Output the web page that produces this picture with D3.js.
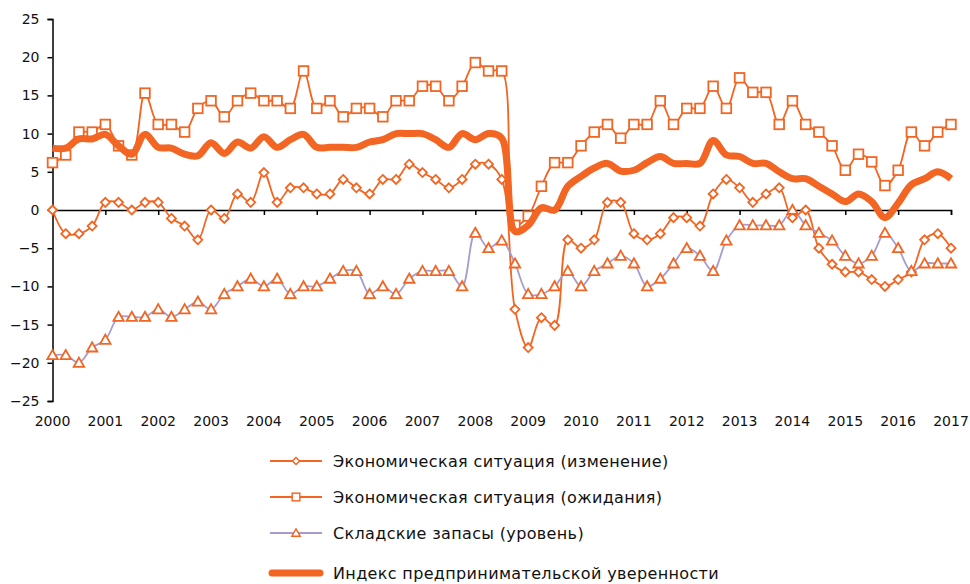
<!DOCTYPE html>
<html><head><meta charset="utf-8">
<script src="https://cdn.jsdelivr.net/npm/d3@7"></script>
<style>body{margin:0;background:#fff}svg{display:block}text{font-family:"DejaVu Sans",sans-serif;fill:#111}</style>
</head><body><svg id="c" width="970" height="584"></svg>
<script>
const yearTicks = [2000,2001,2002,2003,2004,2005,2006,2007,2008,2009,2010,2011,2012,2013,2014,2015,2016,2017];
const yTicks = [-25,-20,-15,-10,-5,0,5,10,15,20,25];
// quarterly observations, 2000 Q1 ... 2017 Q1
const quarters = d3.range(69).map(i => 2000 + i / 4);
const seriesNames = [
  "Экономическая ситуация (изменение)",
  "Экономическая ситуация (ожидания)",
  "Складские запасы (уровень)",
  "Индекс предпринимательской уверенности"
];
const changeVals = [0,-3.1,-3.1,-2.1, 1,1,0,1, 1,-1.1,-2.1,-3.9, 0,-1.1,2.1,1, 4.9,1,2.9,2.9,
  2.1,2.1,4,2.9, 2.1,4,4,6, 4.9,4,2.9,4, 6,6,4,-13, -18,-14.1,-15.1,-3.9, -5,-3.9,1,1,
  -3.1,-3.9,-3.1,-1, -1,-2.1,2.1,4, 2.9,1,2.1,2.9, -1,0,-5,-7.1, -8.1,-8.1,-9.1,-10, -9.1,-8.1,-3.9,-3.1, -5];
const expectVals = [6.2,7.2,10.2,10.2, 11.2,8.4,7.2,15.3, 11.2,11.2,10.2,13.3, 14.3,12.2,14.3,15.3,
  14.3,14.3,13.3,18.2, 13.3,14.3,12.2,13.3, 13.3,12.2,14.3,14.3, 16.2,16.2,14.3,16.2,
  19.3,18.2,18.2,-2, -0.8,3.1,6.2,6.2, 8.4,10.2,11.2,9.4, 11.2,11.2,14.3,11.2,
  13.3,13.3,16.2,13.3, 17.3,15.4,15.4,11.2, 14.3,11.2,10.2,8.4, 5.2,7.3,6.3,3.2, 5.2,10.2,8.4,10.2, 11.2];
const stockVals = [-19,-19,-20,-18, -17,-14,-14,-14, -13,-14,-13,-12, -13,-11,-10,-9, -10,-9,-11,-10,
  -10,-9,-8,-8, -11,-10,-11,-9, -8,-8,-8,-10, -3,-5,-4,-7, -11,-11,-10,-8, -10,-8,-7,-6,
  -7,-10,-9,-7, -5,-6,-8,-4, -2,-2,-2,-2, 0,-2,-3,-4, -6,-7,-6,-3, -5,-8,-7,-7, -7];
const indexVals = [8.1,8.1,9.3,9.3, 9.9,8.4,7.3,9.9, 8.2,8.1,7.3,7.1, 8.8,7.4,8.9,8.1, 9.6,8.2,9.2,9.9,
  8.2,8.2,8.2,8.2, 8.9,9.2,10,10, 10,9.2,8.2,10, 9.2,10,9.4,-2.8, -2,0.3,0,3.1, 4.4,5.5,6.1,5.1,
  5.2,6.2,7,6.1, 6.1,6.1,9.1,7.2, 7,6.1,6.1,5, 4.1,4.1,3.1,2.1, 1.1,2.1,1.1,-1, 0.9,3.3,4.1,5, 4.1];

const ORANGE = "#f26522", LAV = "#a89ccc";
const svg = d3.select("#c");
const x = d3.scaleLinear().domain([2000, 2017]).range([52.5, 951]);
const y = d3.scaleLinear().domain([-25, 25]).range([401, 19]);

// y axis
const ya = svg.append("g").attr("transform", `translate(${x(2000)},0)`)
  .call(d3.axisLeft(y).tickValues(yTicks).tickSize(5).tickPadding(8).tickFormat(d3.format("d")));
ya.select(".domain").attr("stroke", "#000").attr("stroke-width", 1.5);
ya.selectAll(".tick line").attr("stroke", "#000").attr("stroke-width", 1.5);
ya.selectAll("text").style("font-size", "14px").attr("fill", "#111");

// x axis on zero line
const xa = svg.append("g").attr("transform", `translate(0,${y(0)})`)
  .call(d3.axisBottom(x).tickValues(yearTicks).tickSize(5).tickFormat(""));
xa.select(".domain").attr("stroke", "#000").attr("stroke-width", 1.5);
xa.selectAll(".tick line").attr("stroke", "#000").attr("stroke-width", 1.5);
svg.append("g").selectAll("text").data(yearTicks).join("text")
  .attr("x", d => x(d)).attr("y", y(-25) + 25).attr("text-anchor", "middle")
  .style("font-size", "14px").text(d => d);

const line = d3.line().x((d, i) => x(quarters[i])).y(d => y(d)).curve(d3.curveCatmullRom);

const sym = {
  diamond: (g, cx, cy) => g.append("path").attr("d", `M${cx},${cy-4.5}L${cx+4.5},${cy}L${cx},${cy+4.5}L${cx-4.5},${cy}Z`),
  square: (g, cx, cy) => g.append("rect").attr("x", cx-4.8).attr("y", cy-4.8).attr("width", 9.6).attr("height", 9.6),
  triangle: (g, cx, cy) => g.append("path").attr("d", `M${cx},${cy-5.2}L${cx+5.2},${cy+4}L${cx-5.2},${cy+4}Z`)
};
function drawSeries(vals, lineColor, shape) {
  svg.append("path").datum(vals).attr("d", line).attr("fill", "none")
    .attr("stroke", lineColor).attr("stroke-width", 1.8);
  const g = svg.append("g");
  vals.forEach((v, i) => sym[shape](g, x(quarters[i]), y(v))
    .attr("fill", "#fff").attr("stroke", ORANGE).attr("stroke-width", 1.8));
}
drawSeries(changeVals, ORANGE, "diamond");
drawSeries(expectVals, ORANGE, "square");
drawSeries(stockVals, LAV, "triangle");
svg.append("path").datum(indexVals).attr("d", line).attr("fill", "none")
  .attr("stroke", ORANGE).attr("stroke-width", 7).attr("stroke-linejoin", "round");

// legend
const legY = [461, 497, 533, 573];
const shapes = ["diamond", "square", "triangle", null];
const lg = svg.append("g");
seriesNames.forEach((name, i) => {
  const yy = legY[i];
  if (shapes[i]) {
    lg.append("line").attr("x1", 270).attr("x2", 322).attr("y1", yy).attr("y2", yy)
      .attr("stroke", i === 2 ? LAV : ORANGE).attr("stroke-width", 1.8);
    sym[shapes[i]](lg, 296, yy).attr("fill", "#fff").attr("stroke", ORANGE).attr("stroke-width", 1.8)
      .attr("transform", `translate(296,${yy}) scale(0.8) translate(-296,${-yy})`);
  } else {
    lg.append("line").attr("x1", 272).attr("x2", 320).attr("y1", yy).attr("y2", yy)
      .attr("stroke", ORANGE).attr("stroke-width", 7).attr("stroke-linecap", "round");
  }
  lg.append("text").attr("x", 333).attr("y", yy).attr("dy", "0.35em")
    .style("font-size", "16px").style("letter-spacing", "0.35px").text(name);
});
</script></body></html>
